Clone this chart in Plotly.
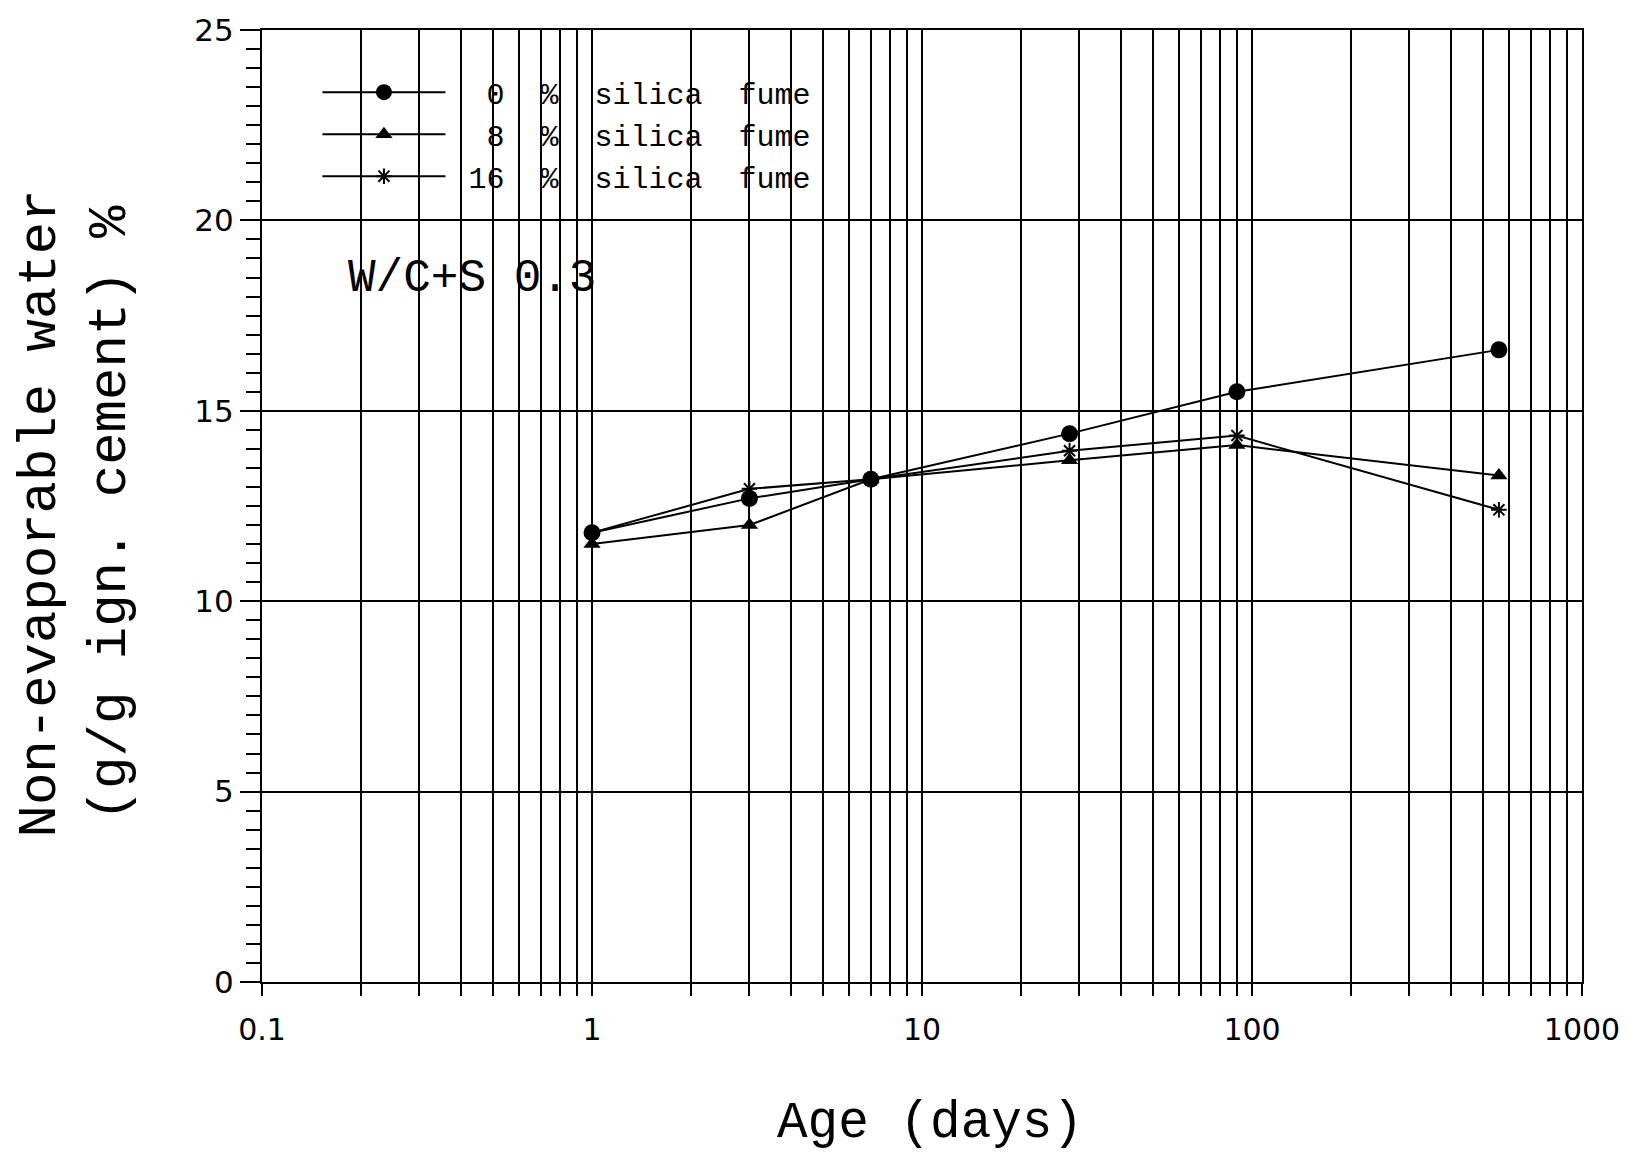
import plotly.graph_objects as go

age_days = [1, 3, 7, 28, 90, 560]
sf0 = [11.8, 12.7, 13.2, 14.4, 15.5, 16.6]
sf8 = [11.5, 12.0, 13.2, 13.7, 14.1, 13.3]
sf16 = [11.8, 12.95, 13.2, 13.95, 14.35, 12.4]
series_names = ["\u00a0\u00a00\u00a0\u00a0%\u00a0\u00a0silica\u00a0\u00a0fume",
                "\u00a0\u00a08\u00a0\u00a0%\u00a0\u00a0silica\u00a0\u00a0fume",
                "\u00a016\u00a0\u00a0%\u00a0\u00a0silica\u00a0\u00a0fume"]

x_grid_vals = [m * 10 ** e for e in range(-1, 3) for m in range(1, 10)] + [1000]
x_tick_text = [("0.1" if v == 0.1 else str(int(v))) if m == 1 else "" for v, m in
               [(m * 10 ** e, m) for e in range(-1, 3) for m in range(1, 10)]] + ["1000"]

mono = "Liberation Mono"

fig = go.Figure()
fig.add_trace(go.Scatter(x=age_days, y=sf0, name=series_names[0], mode="lines+markers",
                         line=dict(color="black", width=2),
                         marker=dict(symbol="circle", size=17, color="black")))
fig.add_trace(go.Scatter(x=age_days, y=sf8, name=series_names[1], mode="lines+markers",
                         line=dict(color="black", width=2),
                         marker=dict(symbol="triangle-up", size=15, color="black")))
fig.add_trace(go.Scatter(x=age_days, y=sf16, name=series_names[2], mode="lines+markers",
                         line=dict(color="black", width=2),
                         marker=dict(symbol="asterisk-open", size=13, color="black",
                                     line=dict(color="black", width=2))))

fig.update_layout(
    width=1643, height=1156,
    margin=dict(l=262, r=61, t=28, b=174),
    paper_bgcolor="white", plot_bgcolor="white",
    showlegend=True,
    legend=dict(x=0.042, y=0.962, xanchor="left", yanchor="top",
                bgcolor="rgba(0,0,0,0)", font=dict(family=mono, size=30, color="black"),
                itemwidth=123, tracegroupgap=0),
    font=dict(family=mono, color="black"),
)
fig.update_xaxes(type="log", range=[-1, 3], tickmode="array", tickvals=x_grid_vals,
                 ticktext=x_tick_text, showgrid=True, gridcolor="black", gridwidth=1.5,
                 showline=True, linecolor="black", linewidth=2, mirror=True,
                 ticks="outside", ticklen=12, tickcolor="black", tickwidth=1.5,
                 ticklabelstandoff=8,
                 tickfont=dict(family="DejaVu Sans", size=30, color="black"), zeroline=False)
fig.update_yaxes(range=[0, 25], dtick=5, showgrid=True, gridcolor="black", gridwidth=1.5,
                 showline=True, linecolor="black", linewidth=2, mirror=True,
                 ticks="outside", ticklen=20, tickcolor="black", tickwidth=1.5,
                 minor=dict(dtick=0.5, ticks="outside", ticklen=14, tickcolor="black", tickwidth=1.5),
                 tickfont=dict(family="DejaVu Sans", size=31, color="black"), zeroline=False)

fig.add_annotation(text="W/C+S 0.3", xref="paper", yref="paper", x=0.064, y=0.738,
                   xanchor="left", yanchor="middle", showarrow=False,
                   font=dict(family=mono, size=46, color="black"))
fig.add_annotation(text="Age (days)", xref="paper", yref="paper", x=0.506, y=-0.149,
                   xanchor="center", yanchor="middle", showarrow=False,
                   font=dict(family=mono, size=51, color="black"))
fig.add_annotation(text="Non-evaporable water<br>(g/g ign. cement) %", xref="paper", yref="paper",
                   x=-0.141, y=0.492, xanchor="center", yanchor="middle", showarrow=False,
                   textangle=-90, font=dict(family=mono, size=54, color="black"))

fig.write_html("out.html")
